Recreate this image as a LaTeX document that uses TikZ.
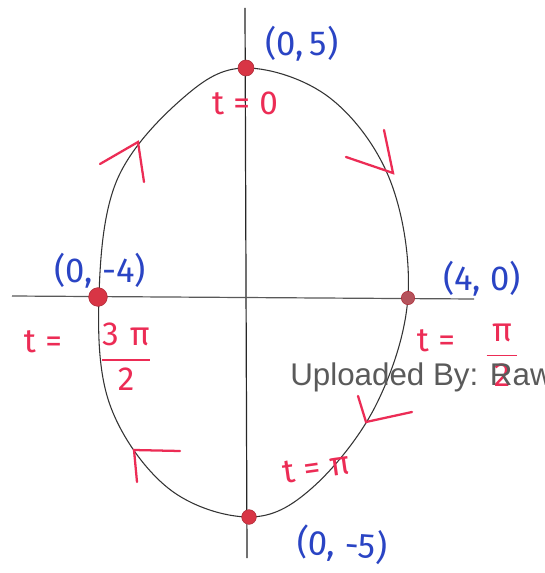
\documentclass[tikz,border=0pt]{standalone}
\usepackage{fontspec}
\usepackage{amsmath}
\setmainfont{Fira Sans}
\newfontfamily\wmfont{Liberation Sans}
\definecolor{penblue}{HTML}{2A44C4}
\definecolor{penred}{HTML}{EC2C55}
\definecolor{dotred}{HTML}{D83545}
\definecolor{wmgray}{HTML}{5A5A5A}
\newcommand{\fracpi}[2]{$\dfrac{\mbox{#1}}{\mbox{#2}}$}
\begin{document}
\begin{tikzpicture}[x=0.75pt,y=-0.75pt,
  axis/.style={draw=black!85, line width=0.9pt},
  curve/.style={draw=black!80, line width=0.8pt},
  tick/.style={draw=penred, line width=1.7pt, line cap=round},
  bluelab/.style={text=penblue, font=\fontsize{26}{28}\selectfont, inner sep=0pt},
  redlab/.style={text=penred, font=\fontsize{25}{27}\selectfont, inner sep=0pt},
  pt/.style={circle, fill=dotred, draw=dotred!80!black, line width=0.4pt, inner sep=0pt, minimum size=#1},
]
\useasboundingbox (0,0) rectangle (544,573);
\fill[white] (0,0) rectangle (544,573);
% axes
\coordinate (vt) at (245,8);
\coordinate (vb) at (247,558);
\coordinate (hl) at (12,296);
\coordinate (hr) at (474,299);
\draw[axis] (vt) -- (vb);
\draw[axis, draw=black!65] (hl) -- (hr);
% ellipse (hand drawn)
\draw[curve] plot[smooth cycle, tension=0.6] coordinates {
 (246,68) (330,98) (390,180) (408,296) (376,405) (312,488)
 (249,517) (168,488) (110,405) (99,296) (117,180) (183,98)};
% direction ticks
\coordinate (a1) at (138,142);
\draw[tick] (100,164) -- (a1) -- (144,182);
\coordinate (a2) at (393,173);
\draw[tick] (346,157) -- (a2) -- (384,130);
\coordinate (a3) at (366,422);
\draw[tick] (412,412) -- (a3) -- (358,396);
\coordinate (a4) at (134,450);
\draw[tick] (180,451) -- (a4) -- (137,482);
% points
\node[pt=12pt] (ptop) at (246,68) {};
\node[pt=14pt] (pleft) at (98,297) {};
\node[pt=10pt, fill=dotred!60!gray] (pright) at (408,298) {};
\node[pt=11pt] (pbot) at (249,517) {};
% labels
\node[bluelab] (l05) at (302,44) {(0,\,5)};
\node[redlab] (t0) at (245,103) {t\;=\;0};
\node[bluelab] (l04) at (100,271) {(0,\;-4)};
\node[bluelab] (l40) at (482,279) {(4,\;0)};
\node[redlab] (t32a) at (43,342) {t\hspace{7pt}=};
\node[redlab] (t32b) at (126,357) {\fracpi{3\,\,π}{2}};
\node[redlab] (t12a) at (436,341) {t\hspace{7pt}=};
\node[redlab] (t12b) at (502,355) {\fracpi{\,π\,}{2}};
\node[redlab, rotate=8] (tpi) at (316,468) {t\;=\;π};
\node[bluelab, rotate=-4] (l05b) at (342,545) {(0,\;-5)};
% watermark
\node[anchor=west, text=wmgray, font=\wmfont\fontsize{23.5}{25}\selectfont, inner sep=0pt] (wm) at (290,377) {Uploaded By: Raw};
\end{tikzpicture}
\end{document}
